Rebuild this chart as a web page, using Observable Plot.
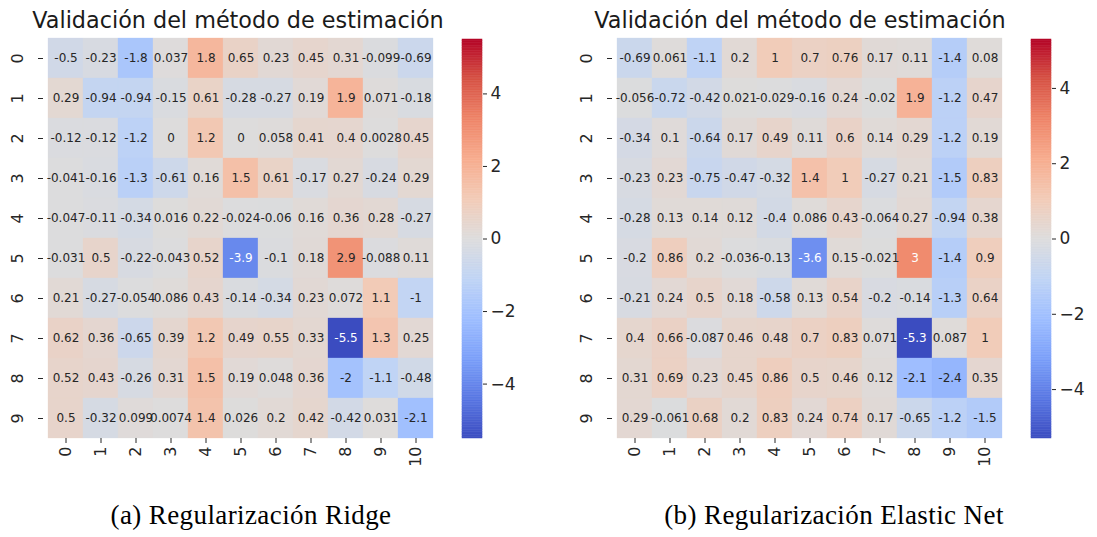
<!DOCTYPE html>
<html><head><meta charset="utf-8">
<script src="https://cdn.jsdelivr.net/npm/d3@7"></script>
<script src="https://cdn.jsdelivr.net/npm/@observablehq/plot@0.6"></script>
<style>
html,body{margin:0;padding:0;background:#fff;}
#root{position:relative;width:1097px;height:537px;overflow:hidden;background:#fff;}
.panel{position:absolute;top:0;}
.title{position:absolute;font-family:"DejaVu Sans";font-size:22.3px;line-height:1;color:#1a1a1a;text-align:center;width:600px;white-space:nowrap;}
.caption{position:absolute;font-family:"Liberation Serif";font-size:27px;line-height:1;color:#000;text-align:center;width:600px;white-space:nowrap;letter-spacing:0.4px;}
</style></head><body><div id="root"></div>
<script>
const rowLabels = ["0","1","2","3","4","5","6","7","8","9"];
const colLabels = ["0","1","2","3","4","5","6","7","8","9","10"];
const colorbarTicks = [-4,-2,0,2,4];
const titleText = "Validación del método de estimación";
const captionA = "(a) Regularización Ridge";
const captionB = "(b) Regularización Elastic Net";

const ridgeValues = [
  [-0.5, -0.23, -1.8, 0.037, 1.8, 0.65, 0.23, 0.45, 0.31, -0.099, -0.69],
  [0.29, -0.94, -0.94, -0.15, 0.61, -0.28, -0.27, 0.19, 1.9, 0.071, -0.18],
  [-0.12, -0.12, -1.2, 0, 1.2, 0, 0.058, 0.41, 0.4, 0.0028, 0.45],
  [-0.041, -0.16, -1.3, -0.61, 0.16, 1.5, 0.61, -0.17, 0.27, -0.24, 0.29],
  [-0.047, -0.11, -0.34, 0.016, 0.22, -0.024, -0.06, 0.16, 0.36, 0.28, -0.27],
  [-0.031, 0.5, -0.22, -0.043, 0.52, -3.9, -0.1, 0.18, 2.9, -0.088, 0.11],
  [0.21, -0.27, -0.054, 0.086, 0.43, -0.14, -0.34, 0.23, 0.072, 1.1, -1],
  [0.62, 0.36, -0.65, 0.39, 1.2, 0.49, 0.55, 0.33, -5.5, 1.3, 0.25],
  [0.52, 0.43, -0.26, 0.31, 1.5, 0.19, 0.048, 0.36, -2, -1.1, -0.48],
  [0.5, -0.32, 0.099, 0.0074, 1.4, 0.026, 0.2, 0.42, -0.42, 0.031, -2.1]
];
const elasticValues = [
  [-0.69, 0.061, -1.1, 0.2, 1, 0.7, 0.76, 0.17, 0.11, -1.4, 0.08],
  [-0.056, -0.72, -0.42, 0.021, -0.029, -0.16, 0.24, -0.02, 1.9, -1.2, 0.47],
  [-0.34, 0.1, -0.64, 0.17, 0.49, 0.11, 0.6, 0.14, 0.29, -1.2, 0.19],
  [-0.23, 0.23, -0.75, -0.47, -0.32, 1.4, 1, -0.27, 0.21, -1.5, 0.83],
  [-0.28, 0.13, 0.14, 0.12, -0.4, 0.086, 0.43, -0.064, 0.27, -0.94, 0.38],
  [-0.2, 0.86, 0.2, -0.036, -0.13, -3.6, 0.15, -0.021, 3, -1.4, 0.9],
  [-0.21, 0.24, 0.5, 0.18, -0.58, 0.13, 0.54, -0.2, -0.14, -1.3, 0.64],
  [0.4, 0.66, -0.087, 0.46, 0.48, 0.7, 0.83, 0.071, -5.3, 0.087, 1],
  [0.31, 0.69, 0.23, 0.45, 0.86, 0.5, 0.46, 0.12, -2.1, -2.4, 0.35],
  [0.29, -0.061, 0.68, 0.2, 0.83, 0.24, 0.74, 0.17, -0.65, -1.2, -1.5]
];
const coolwarmStops = ["#3b4cc0","#5977e3","#7b9ff9","#9ebeff","#c0d4f5","#dddcdc","#f2cbb7","#f7ac8e","#ee8468","#d65244","#b40426"];

const interp = d3.piecewise(d3.interpolateRgb, coolwarmStops);
const fmt = v => d3.format(".2~g")(v).replace("\u2212", "-");
function lum(c) {
  const rgb = d3.rgb(c);
  const f = x => { x /= 255; return x <= 0.03928 ? x / 12.92 : Math.pow((x + 0.055) / 1.055, 2.4); };
  return 0.2126 * f(rgb.r) + 0.7152 * f(rgb.g) + 0.0722 * f(rgb.b);
}
const root = document.getElementById("root");
const baseStyle = {fontFamily: "DejaVu Sans", fontSize: "15px", color: "#262626", background: "transparent", overflow: "visible"};

function place(el, left) { el.classList.add("panel"); el.style.left = left + "px"; root.appendChild(el); }

function heatmap(values, left) {
  const vmax = d3.max(values.flat(), v => Math.abs(v));
  const colorOf = v => interp((v + vmax) / (2 * vmax));
  const cells = values.flatMap((row, i) => row.map((v, j) => ({row: rowLabels[i], col: colLabels[j], v})));
  const chart = Plot.plot({
    width: 450, height: 480,
    marginLeft: 43, marginRight: 13, marginTop: 38, marginBottom: 42,
    style: baseStyle,
    x: {type: "band", domain: colLabels, padding: 0, label: null},
    y: {type: "band", domain: rowLabels, padding: 0, label: null},
    color: {type: "identity"},
    marks: [
      Plot.cell(cells, {x: "col", y: "row", fill: d => colorOf(d.v), inset: 0, stroke: d => colorOf(d.v), strokeWidth: 0.3}),
      Plot.text(cells, {x: "col", y: "row", text: d => fmt(d.v), fontSize: 12,
        fill: d => lum(colorOf(d.v)) < 0.408 ? "#ffffff" : "#262626"}),
      Plot.axisX({tickRotate: -90, tickSize: 5, tickPadding: 3, fontSize: 16, label: null, stroke: "#262626"}),
      Plot.axisY({tickSize: 5, tickFormat: () => "", label: null, stroke: "#262626"}),
      Plot.text(rowLabels, {y: d => d, text: d => d, frameAnchor: "left", dx: -26, rotate: -90,
        fontSize: 16, textAnchor: "middle", lineAnchor: "middle", fill: "#262626"})
    ]
  });
  place(chart, left);

  const n = 240;
  const bands = d3.range(n).map(i => ({y1: -vmax + i * 2 * vmax / n, y2: -vmax + (i + 1) * 2 * vmax / n}));
  const bar = Plot.plot({
    width: 100, height: 480,
    marginLeft: 22, marginRight: 58, marginTop: 39, marginBottom: 42,
    style: baseStyle,
    x: {domain: [0, 1], axis: null},
    y: {domain: [-vmax, vmax], axis: null},
    color: {type: "identity"},
    marks: [
      Plot.rect(bands, {x1: 0, x2: 1, y1: "y1", y2: "y2", fill: d => colorOf((d.y1 + d.y2) / 2),
        stroke: d => colorOf((d.y1 + d.y2) / 2), strokeWidth: 0.5}),
      Plot.axisY(colorbarTicks, {anchor: "right", tickSize: 4, tickPadding: 4, fontSize: 17, label: null, stroke: "#262626"})
    ]
  });
  place(bar, left + 440);
}

heatmap(ridgeValues, 0);
heatmap(elasticValues, 569);

function label(cls, text, center, top) {
  const d = document.createElement("div");
  d.className = cls; d.textContent = text;
  d.style.left = (center - 300) + "px"; d.style.top = top + "px";
  root.appendChild(d);
}
label("title", titleText, 238, 9);
label("title", titleText, 800, 9);
label("caption", captionA, 251, 502);
label("caption", captionB, 834, 502);
</script>
</body></html>
